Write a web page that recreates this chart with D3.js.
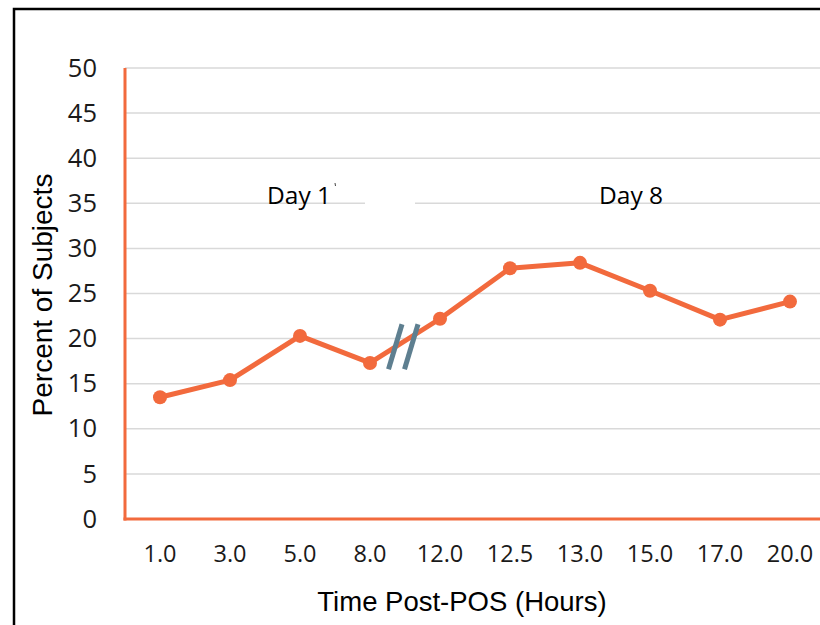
<!DOCTYPE html>
<html><head><meta charset="utf-8">
<script src="https://cdn.jsdelivr.net/npm/d3@7"></script>
<style>body{margin:0;background:#fff}svg{display:block}</style>
</head><body>
<svg id="c" width="820" height="625"></svg>
<script>
const categories = ["1.0","3.0","5.0","8.0","12.0","12.5","13.0","15.0","17.0","20.0"];
const values = [13.5, 15.4, 20.3, 17.3, 22.2, 27.8, 28.4, 25.3, 22.1, 24.1];
const yTicks = [0,5,10,15,20,25,30,35,40,45,50];
const dayLabels = ["Day 1", "Day 8"];
const dayCats = ["5.0", "15.0"];

const svg = d3.select("#c");
const orange = "#F26A3D";
const pLeft = 125, pRight = 825, pTop = 68, pBottom = 519;

const x = d3.scaleBand().domain(categories).range([pLeft, pRight]);
const y = d3.scaleLinear().domain([0,50]).range([pBottom, pTop]);
const cx = d => x(d)+x.bandwidth()/2;

// outer border
svg.append("rect").attr("x",14).attr("y",9).attr("width",840).attr("height",650)
  .attr("fill","none").attr("stroke","#000").attr("stroke-width",2.5);

// gridlines
svg.append("g").selectAll("line").data(yTicks.filter(d=>d>0)).join("line")
  .attr("x1",pLeft).attr("x2",820).attr("y1",d=>y(d)).attr("y2",d=>y(d))
  .attr("stroke","#d9d9d9").attr("stroke-width",1.5);

// y axis
const yAxis = svg.append("g").attr("transform",`translate(${pLeft},0)`)
  .call(d3.axisLeft(y).tickValues(yTicks).tickSize(0).tickPadding(28));
yAxis.select(".domain").remove();
yAxis.selectAll("text").attr("font-family","'Open Sans', sans-serif").attr("font-size",25.5).attr("fill","#1a1a1a");
svg.append("line").attr("x1",pLeft).attr("x2",pLeft).attr("y1",y(50)).attr("y2",y(0)+1.5)
  .attr("stroke",orange).attr("stroke-width",3);

// x axis
const xAxis = svg.append("g").attr("transform",`translate(0,${pBottom})`)
  .call(d3.axisBottom(x).tickSize(0).tickPadding(26));
xAxis.select(".domain").remove();
xAxis.selectAll("text").attr("font-family","'Open Sans', sans-serif").attr("font-size",23.5).attr("fill","#1a1a1a");
svg.append("line").attr("x1",pLeft-1.5).attr("x2",820).attr("y1",pBottom).attr("y2",pBottom)
  .attr("stroke",orange).attr("stroke-width",3);

// day labels
const dayOffsets = [-33, -51];
svg.selectAll("text.day").data(dayLabels).join("text").attr("class","day")
  .attr("x",(d,i)=>cx(dayCats[i])+dayOffsets[i]).attr("y",y(35)+1)
  .attr("font-family","'Open Sans', sans-serif").attr("font-size",24.5).attr("fill","#000")
  .text(d=>d);
svg.append("rect").attr("x",365).attr("y",y(35)-3).attr("width",50).attr("height",6).attr("fill","#fff");
svg.append("line").attr("x1",335).attr("x2",335.5).attr("y1",183).attr("y2",186)
  .attr("stroke","#444").attr("stroke-width",1);

// line
const pts = categories.map((c,i)=>[cx(c), y(values[i])]);
svg.append("path").attr("d",d3.line()(pts)).attr("fill","none")
  .attr("stroke",orange).attr("stroke-width",5).attr("stroke-linejoin","round");

// break marks
const bx = (cx("8.0")+cx("12.0"))/2;
[-10,6].forEach(o=>{
  svg.append("line").attr("x1",bx+o-6.5).attr("y1",y(16.6)).attr("x2",bx+o+7).attr("y2",y(21.6))
    .attr("stroke","#5E7F90").attr("stroke-width",5);
});

svg.selectAll("circle").data(pts).join("circle")
  .attr("cx",d=>d[0]).attr("cy",d=>d[1]).attr("r",7).attr("fill",orange);

// axis titles
svg.append("text").attr("x",462).attr("y",611).attr("text-anchor","middle")
  .attr("font-family","'Liberation Sans', Arial, sans-serif").attr("font-size",27.5).attr("fill","#000")
  .text("Time Post-POS (Hours)");
svg.append("text").attr("transform","translate(52,295) rotate(-90)").attr("text-anchor","middle")
  .attr("font-family","'Liberation Sans', Arial, sans-serif").attr("font-size",28).attr("fill","#000")
  .text("Percent of Subjects");
</script>
</body></html>
